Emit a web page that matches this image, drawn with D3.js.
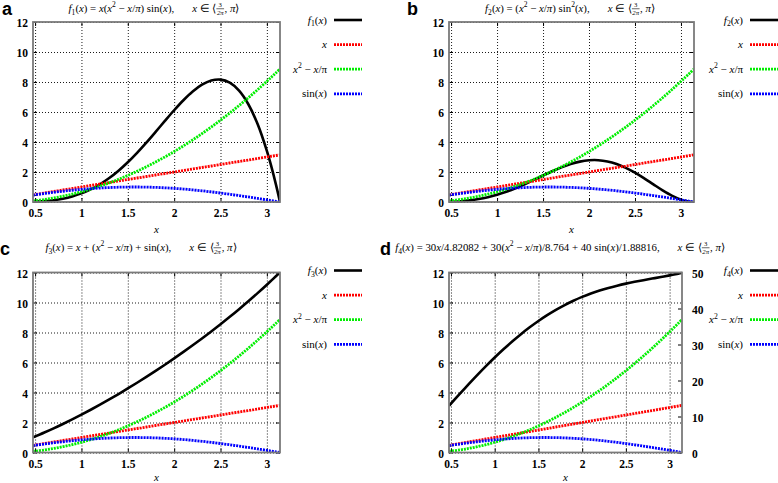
<!DOCTYPE html>
<html><head><meta charset="utf-8">
<script src="https://cdn.jsdelivr.net/npm/d3@7"></script>
<style>body{margin:0;background:#fff} svg{display:block} text{white-space:pre}</style>
</head><body><svg id="c" width="778" height="483"></svg>
<script>
// ---------- data ----------
const xs = [0.4775,0.6,0.7,0.8,0.9,1.0,1.1,1.2,1.3,1.4,1.5,1.6,1.7,1.8,1.9,2.0,2.1,2.2,2.3,2.4,2.5,2.6,2.7,2.8,2.9,3.0,3.05,3.1,3.1416];
const xVals = [0.4775,0.6,0.7,0.8,0.9,1.0,1.1,1.2,1.3,1.4,1.5,1.6,1.7,1.8,1.9,2.0,2.1,2.2,2.3,2.4,2.5,2.6,2.7,2.8,2.9,3.0,3.05,3.1,3.1416];
const sinVals = [0.4596,0.5646,0.6442,0.7174,0.7833,0.8415,0.8912,0.9320,0.9636,0.9854,0.9975,0.9996,0.9917,0.9738,0.9463,0.9093,0.8632,0.8085,0.7457,0.6755,0.5985,0.5155,0.4274,0.3350,0.2392,0.1411,0.0915,0.0416,0];
const gVals = [0.0760,0.1690,0.2672,0.3854,0.5235,0.6817,0.8599,1.0580,1.2762,1.5144,1.7725,2.0507,2.3489,2.6670,3.0052,3.3634,3.7416,4.1397,4.5579,4.9961,5.4542,5.9324,6.4306,6.9487,7.4869,8.0451,8.3317,8.6232,8.8696];
const f1Vals = [0.0167,0.0573,0.1205,0.2212,0.3691,0.5736,0.8430,1.1834,1.5986,2.0893,2.6521,3.2797,3.9598,4.6751,5.4033,6.1166,6.7825,7.3633,7.8174,8.0991,8.1605,7.9512,7.4204,6.5177,5.1946,3.4060,2.3241,1.1115,0];
const f2Vals = [0.0161,0.0539,0.1109,0.1983,0.3212,0.4827,0.6830,0.9191,1.1849,1.4706,1.7637,2.0489,2.3099,2.5294,2.6911,2.7809,2.7879,2.7060,2.5346,2.2795,1.9535,1.5765,1.1745,0.7798,0.4286,0.1602,0.0697,0.0149,0];
const f3Vals = [1.0131,1.3337,1.6114,1.9027,2.2069,2.5232,2.8511,3.1901,3.5398,3.8998,4.2700,4.6503,5.0405,5.4409,5.8515,6.2727,6.7048,7.1482,7.6036,8.0715,8.5527,9.0479,9.5579,10.0837,10.6262,11.1862,11.4731,11.7648,12.0112];
const f4Vals = [12.967,16.274,18.918,21.494,23.987,26.383,28.669,30.834,32.871,34.772,36.533,38.152,39.627,40.962,42.158,43.222,44.163,44.989,45.713,46.346,46.906,47.408,47.868,48.307,48.743,49.198,49.438,49.690,49.912];
const xTicks = [0.5,1,1.5,2,2.5,3];
const xTickLabels = ["0.5","1","1.5","2","2.5","3"];
const yTicks = [0,2,4,6,8,10,12];
const yRightTicks = [0,10,20,30,40,50];
const panelLetters = ["a","b","c","d"];

// ---------- drawing ----------
const svg = d3.select("#c");
const SERIF = "'Liberation Serif','Times New Roman',serif";
const SANS = "'Liberation Sans',Arial,sans-serif";

function mathText(g, segs, size) {
  let x = 0;
  segs.forEach(([t, k]) => {
    if (k === "gap") { x += t; return; }
    if (k === "frac") {
      const fs = size * 0.62;
      const n = g.append("text").attr("font-family", SERIF).style("font-size", fs + "px").attr("y", -size * 0.45).text(t[0]);
      const d = g.append("text").attr("font-family", SERIF).attr("font-style", "italic").style("font-size", fs + "px").attr("y", size * 0.28).text(t[1]);
      const nw = n.node().getComputedTextLength(), dw = d.node().getComputedTextLength();
      const w = Math.max(nw, dw) + 1;
      n.attr("x", x + (w - nw) / 2);
      d.attr("x", x + (w - dw) / 2);
      g.append("line").attr("x1", x).attr("x2", x + w).attr("y1", -size * 0.3).attr("y2", -size * 0.3).attr("stroke", "#000").attr("stroke-width", 0.6);
      x += w + 0.5;
      return;
    }
    let fs = size, dy = 0;
    if (k === "sub") { fs = size * 0.7; dy = size * 0.25; }
    if (k === "sup") { fs = size * 0.7; dy = -size * 0.42; }
    const el = g.append("text").attr("font-family", SERIF).attr("x", x).attr("y", dy)
      .style("font-size", fs + "px").attr("font-style", k === "i" ? "italic" : "normal").text(t);
    x += el.node().getComputedTextLength();
  });
  return x;
}

const legX = [["x","i"]];
const legG = [["x","i"],["2","sup"],[" − ","r"],["x","i"],["/π","r"]];
const legS = [["sin(","r"],["x","i"],[")","r"]];
function tail() { return [[18,"gap"],["x","i"],[" ∈ ⟨","r"],[["3","2π"],"frac"],[", ","r"],["π","i"],["⟩","r"]]; }

const panels = [
  { x0: 33, x1: 280, y0: 22, y1: 202, f: f1Vals, right: false,
    title: [["f","i"],["1","sub"],["(","r"],["x","i"],[") = ","r"],["x","i"],["(","r"],["x","i"],["2","sup"],[" − ","r"],["x","i"],["/","r"],["π","i"],[") sin(","r"],["x","i"],["),","r"]].concat(tail()),
    leg: [["f","i"],["1","sub"],["(","r"],["x","i"],[")","r"]], lx: 2, ly: 15 },
  { x0: 449, x1: 694, y0: 22, y1: 202, f: f2Vals, right: false,
    title: [["f","i"],["2","sub"],["(","r"],["x","i"],[") = (","r"],["x","i"],["2","sup"],[" − ","r"],["x","i"],["/","r"],["π","i"],[") sin","r"],["2","sup"],["(","r"],["x","i"],["),","r"]].concat(tail()),
    leg: [["f","i"],["2","sub"],["(","r"],["x","i"],[")","r"]], lx: 407, ly: 15 },
  { x0: 33, x1: 280, y0: 272.5, y1: 452.5, f: f3Vals, right: false,
    title: [["f","i"],["3","sub"],["(","r"],["x","i"],[") = ","r"],["x","i"],[" + (","r"],["x","i"],["2","sup"],[" − ","r"],["x","i"],["/","r"],["π","i"],[") + sin(","r"],["x","i"],["),","r"]].concat(tail()),
    leg: [["f","i"],["3","sub"],["(","r"],["x","i"],[")","r"]], lx: 0, ly: 255 },
  { x0: 449, x1: 682, y0: 272.5, y1: 452.5, f: f4Vals, right: true,
    title: [["f","i"],["4","sub"],["(","r"],["x","i"],[") = 30","r"],["x","i"],["/4.82082 + 30(","r"],["x","i"],["2","sup"],[" − ","r"],["x","i"],["/","r"],["π","i"],[")/8.764 + 40 sin(","r"],["x","i"],[")/1.88816,","r"]].concat(tail()),
    leg: [["f","i"],["4","sub"],["(","r"],["x","i"],[")","r"]], lx: 380, ly: 255 }
];
const titleCenters = [154, 570, 141, 560];
const titleY = [12, 12, 251, 251];
const xLabelY = [233, 233, 481, 481];

panels.forEach((p, i) => {
  const g = svg.append("g");
  const w = p.x1 - p.x0, h = p.y1 - p.y0;
  const x = d3.scaleLinear().domain([xs[0], xs[xs.length - 1]]).range([p.x0, p.x1]);
  const y = d3.scaleLinear().domain([0, 12]).range([p.y1, p.y0]);
  const yR = d3.scaleLinear().domain([0, 50]).range([p.y1, p.y0]);

  const gx = g.append("g").attr("transform", `translate(0,${p.y1})`)
    .call(d3.axisBottom(x).tickValues(xTicks).tickFormat((d, j) => xTickLabels[j]).tickSize(-h).tickPadding(7));
  const gy = g.append("g").attr("transform", `translate(${p.x0},0)`)
    .call(d3.axisLeft(y).tickValues(yTicks).tickSize(-w).tickPadding(5));
  [gx, gy].forEach(a => {
    a.select(".domain").remove();
    a.selectAll(".tick line").attr("stroke", "#000").attr("stroke-width", 0.9).attr("stroke-dasharray", "1,2");
    a.selectAll(".tick text").attr("font-family", SERIF).attr("font-weight", "bold").style("font-size", "11.5px").attr("fill", "#000");
  });
  gy.selectAll(".tick text").attr("dy", "0.42em");
  const tm = [
    [d3.axisTop(x).tickValues(xTicks).tickSize(-4).tickFormat(""), `translate(0,${p.y0})`],
    [d3.axisBottom(x).tickValues(xTicks).tickSize(-4).tickFormat(""), `translate(0,${p.y1})`],
    [d3.axisLeft(y).tickValues(yTicks).tickSize(-4).tickFormat(""), `translate(${p.x0},0)`]
  ];
  if (!p.right) tm.push([d3.axisRight(y).tickValues(yTicks).tickSize(-4).tickFormat(""), `translate(${p.x1},0)`]);
  tm.forEach(([ax, tr]) => {
    const a = g.append("g").attr("transform", tr).call(ax);
    a.select(".domain").remove();
    a.selectAll(".tick line").attr("stroke", "#000").attr("stroke-width", 1);
  });
  if (p.right) {
    const ar = g.append("g").attr("transform", `translate(${p.x1},0)`)
      .call(d3.axisRight(yR).tickValues(yRightTicks).tickSize(-4).tickPadding(10));
    ar.select(".domain").remove();
    ar.selectAll(".tick line").attr("stroke", "#000").attr("stroke-width", 1);
    ar.selectAll(".tick text").attr("font-family", SERIF).attr("font-weight", "bold").style("font-size", "11.5px").attr("fill", "#000").attr("dy", "0.42em");
  }

  const cid = "clip" + i;
  svg.append("clipPath").attr("id", cid).append("rect").attr("x", p.x0).attr("y", p.y0 - 1).attr("width", w).attr("height", h + 2);

  const series = [
    { vals: p.f, color: "#000", dash: null, sw: 2.6, sc: p.right ? yR : y, leg: p.leg },
    { vals: xVals, color: "#ff0000", dash: "2,1", sw: 2.8, sc: y, leg: legX },
    { vals: gVals, color: "#00ee00", dash: "2,1", sw: 2.8, sc: y, leg: legG },
    { vals: sinVals, color: "#0000ff", dash: "2,1", sw: 2.8, sc: y, leg: legS }
  ];
  series.forEach(s => {
    const line = d3.line().x((d, j) => x(xs[j])).y(d => s.sc(d)).curve(d3.curveCatmullRom);
    g.append("path").attr("clip-path", `url(#${cid})`).attr("d", line(s.vals))
      .attr("fill", "none").attr("stroke", s.color).attr("stroke-width", s.sw)
      .attr("stroke-dasharray", s.dash).attr("stroke-linejoin", "round");
  });

  g.append("rect").attr("x", p.x0).attr("y", p.y0).attr("width", w).attr("height", h)
    .attr("fill", "none").attr("stroke", "#7a7a7a").attr("stroke-width", 1.8);

  series.forEach((s, k) => {
    const ly = p.y0 - 2 + k * 24.6;
    const lg = g.append("g");
    const tw = mathText(lg, s.leg, 11);
    lg.attr("transform", `translate(${p.x0 + 294 - tw},${ly + 3.5})`);
    g.append("line").attr("x1", p.x0 + 301).attr("x2", p.x0 + 329).attr("y1", ly).attr("y2", ly)
      .attr("stroke", s.color).attr("stroke-width", s.sw).attr("stroke-dasharray", s.dash);
  });

  const tg = g.append("g");
  const tw = mathText(tg, p.title, 10.8);
  tg.attr("transform", `translate(${titleCenters[i] - tw / 2},${titleY[i]})`);

  g.append("text").attr("x", (p.x0 + p.x1) / 2).attr("y", xLabelY[i]).attr("text-anchor", "middle")
    .attr("font-family", SERIF).attr("font-style", "italic").style("font-size", "11px").text("x");

  svg.append("text").attr("x", p.lx).attr("y", p.ly).attr("font-family", SANS).attr("font-weight", "bold")
    .style("font-size", "18px").text(panelLetters[i]);
});
</script></body></html>
